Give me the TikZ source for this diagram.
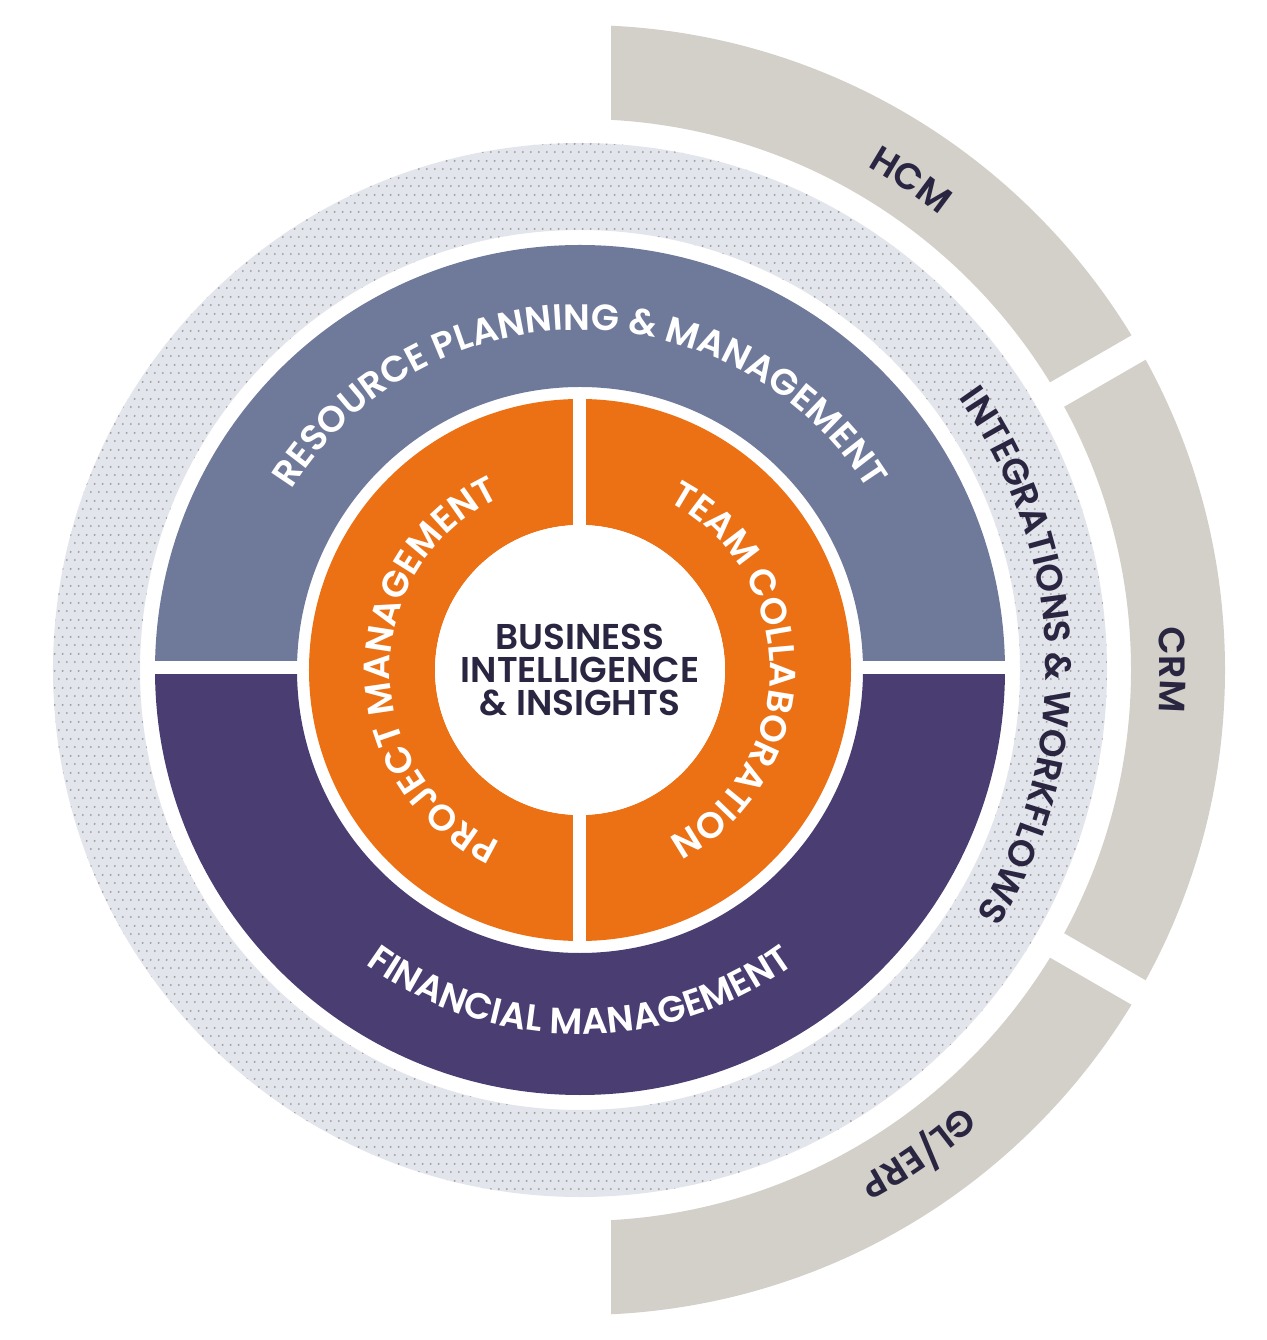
\documentclass[tikz,border=0pt]{standalone}
\usepackage{fontspec}
\IfFontExistsTF{Poppins SemiBold}
  {\setmainfont{Poppins}[BoldFont={Poppins SemiBold}]}
  {\setmainfont{Poppins}}
\usetikzlibrary{decorations.text, patterns.meta}
\definecolor{clrOrange}{HTML}{EC7014}
\definecolor{clrSlate}{HTML}{6F7A9B}
\definecolor{clrPlum}{HTML}{493D72}
\definecolor{clrMist}{HTML}{E3E5EC}
\definecolor{clrDot}{HTML}{A09C98}
\definecolor{clrStone}{HTML}{D3CFC9}
\definecolor{clrNavy}{HTML}{2A2540}
\tikzdeclarepattern{
  name=ringdots,
  type=uncolored,
  bounding box={(0,0) and (0.083,0.166)},
  tile size={(0.083,0.166)},
  code={
    \fill (0.02,0.02) circle (0.011);
    \fill (0.0615,0.103) circle (0.011);
  }
}
\tikzset{
  ring label/.style 2 args={decorate, decoration={text along path, text align=center, text color=#1,
    text={#2}}},
  centre label/.style={font=\fontsize{10.2}{9.3}\selectfont\bfseries, text=clrNavy, align=center},
}

\begin{document}
\begin{tikzpicture}
  \useasboundingbox (-5.80,-6.70) rectangle (6.86,6.70);

  % Connected systems
  \begin{scope}
    \clip (0.31,-6.6) rectangle (6.7,6.6);
    \fill[clrStone, even odd rule] (0,0) circle (6.45) (0,0) circle (5.51);
  \end{scope}
  \foreach \a in {30,-30}
    \draw[white, line width=0.28cm] (\a:5.3) -- (\a:6.7);

  % Integration ring
  \fill[clrMist, even odd rule] (0,0) circle (5.27) (0,0) circle (4.40);
  \fill[pattern={ringdots}, pattern color=clrDot, even odd rule] (0,0) circle (5.27) (0,0) circle (4.40);

  % Planning and finance ring
  \fill[clrSlate] (4.25,0) arc[start angle=0, end angle=180, radius=4.25]
    -- (-2.83,0) arc[start angle=180, end angle=0, radius=2.83] -- cycle;
  \fill[clrPlum] (4.25,0) arc[start angle=0, end angle=-180, radius=4.25]
    -- (-2.83,0) arc[start angle=180, end angle=360, radius=2.83] -- cycle;
  \fill[white] (-4.3,-0.04) rectangle (4.3,0.09);

  % Project ring
  \fill[clrOrange, even odd rule] (0,0) circle (2.71) (0,0) circle (1.45);
  \fill[white] (-0.07,-2.78) rectangle (0.06,2.78);
  \fill[white] (0,0) circle (1.45);

  % Labels
  \begin{scope}
  \fontsize{10.4}{12}\selectfont\bfseries
  \path[ring label={white}{RESOURCE PLANNING {\&} MANAGEMENT}]
    (175:3.40) arc[start angle=175, end angle=5, radius=3.40];
  \path[ring label={white}{FINANCIAL MANAGEMENT}]
    (190:3.64) arc[start angle=190, end angle=350, radius=3.64];
  \path[ring label={white}{PROJECT MANAGEMENT}]
    (255:1.90) arc[start angle=255, end angle=105, radius=1.90];
  \path[ring label={white}{TEAM COLLABORATION}]
    (75:1.90) arc[start angle=75, end angle=-75, radius=1.90];
  \path[ring label={clrNavy}{INTEGRATIONS {\&} WORKFLOWS}]
    (50:4.66) arc[start angle=50, end angle=-46, radius=4.66];
  \path[ring label={clrNavy}{HCM}]
    (76:5.80) arc[start angle=76, end angle=36, radius=5.80];
  \path[ring label={clrNavy}{CRM}]
    (20:5.80) arc[start angle=20, end angle=-20, radius=5.80];
  \path[ring label={clrNavy}{GL/ERP}]
    (-35:5.80) arc[start angle=-35, end angle=-75, radius=5.80];
  \end{scope}

  \node[centre label] (bi) at (0,0) {BUSINESS\\INTELLIGENCE\\\& INSIGHTS};
\end{tikzpicture}
\end{document}
